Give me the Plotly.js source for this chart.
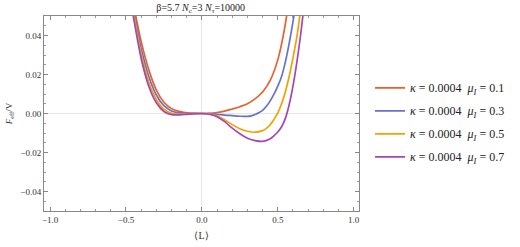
<!DOCTYPE html>
<html>
<head>
<meta charset="utf-8">
<script src="https://cdn.plot.ly/plotly-3.0.1.min.js"></script>
<style>html,body{margin:0;padding:0;background:#fff;}#chart{width:520px;height:247px;}</style>
</head>
<body>
<div id="chart"></div>
<script>
// Polyakov loop values <L> and effective free energy density for each mu_I
var L_orange = [-0.50,-0.45,-0.40,-0.35,-0.30,-0.25,-0.20,-0.15,-0.10,-0.05,0.00,0.05,0.10,0.15,0.20,0.25,0.30,0.35,0.40,0.45,0.50,0.55,0.60];
var F_mu01   = [0.0750,0.0555,0.0370,0.0225,0.0120,0.0058,0.0025,0.0011,0.0004,0.0001,0.0000,0.0001,0.0005,0.0012,0.0023,0.0035,0.0050,0.0075,0.0110,0.0170,0.0275,0.0460,0.0750];

var L_blue = [-0.50,-0.45,-0.40,-0.35,-0.30,-0.25,-0.20,-0.15,-0.10,-0.05,0.00,0.05,0.10,0.15,0.20,0.25,0.30,0.325,0.35,0.375,0.40,0.425,0.45,0.475,0.50,0.525,0.55,0.575,0.60,0.625,0.65];
var F_mu03 = [0.0730,0.0535,0.0335,0.0190,0.0095,0.0040,0.0013,0.0003,0.0000,0.0000,0.0000,-0.0001,-0.0004,-0.0008,-0.0011,-0.0014,-0.0015,-0.0012,-0.0005,0.0004,0.0016,0.0037,0.0065,0.0099,0.0140,0.0190,0.0265,0.0360,0.0470,0.0600,0.0760];

var L_yellow = [-0.50,-0.45,-0.40,-0.35,-0.30,-0.25,-0.20,-0.15,-0.10,-0.05,0.00,0.05,0.10,0.15,0.20,0.25,0.30,0.35,0.40,0.425,0.45,0.475,0.50,0.525,0.55,0.575,0.60,0.625,0.65,0.675];
var F_mu05   = [0.0720,0.0515,0.0305,0.0160,0.0072,0.0022,0.0001,-0.0004,-0.0003,-0.0001,0.0000,-0.0003,-0.0013,-0.0033,-0.0057,-0.0078,-0.0091,-0.0096,-0.0088,-0.0076,-0.0058,-0.0030,0.0003,0.0050,0.0112,0.0190,0.0285,0.0390,0.0530,0.0700];

var L_purple = [-0.50,-0.45,-0.40,-0.35,-0.30,-0.25,-0.20,-0.15,-0.10,-0.05,0.00,0.05,0.10,0.15,0.20,0.25,0.30,0.35,0.40,0.45,0.475,0.50,0.525,0.55,0.575,0.60,0.625,0.65,0.675,0.70];
var F_mu07   = [0.0710,0.0490,0.0282,0.0140,0.0055,0.0010,-0.0006,-0.0007,-0.0004,-0.0001,0.0000,-0.0004,-0.0017,-0.0042,-0.0075,-0.0104,-0.0127,-0.0139,-0.0143,-0.0129,-0.0114,-0.0095,-0.0068,-0.0025,0.0045,0.0140,0.0260,0.0400,0.0570,0.0770];

var seriesNames = [
  "<i>κ</i> = 0.0004\u00a0\u00a0<i>μ<sub>I</sub></i> = 0.1",
  "<i>κ</i> = 0.0004\u00a0\u00a0<i>μ<sub>I</sub></i> = 0.3",
  "<i>κ</i> = 0.0004\u00a0\u00a0<i>μ<sub>I</sub></i> = 0.5",
  "<i>κ</i> = 0.0004\u00a0\u00a0<i>μ<sub>I</sub></i> = 0.7"
];
var xTickVals = [-1.0,-0.5,0.0,0.5,1.0];
var yTickVals = [-0.04,-0.02,0.00,0.02,0.04];

var colors = ["#E8612C","#6672CC","#F5A000","#A546B5"];
var xs = [L_orange, L_blue, L_yellow, L_purple];
var ys = [F_mu01, F_mu03, F_mu05, F_mu07];

var traces = xs.map(function(x,i){
  return {x:x, y:ys[i], type:'scatter', mode:'lines', name:seriesNames[i],
    legendgroup:'g'+i,
    line:{color:colors[i], width:1.7, shape:'spline', smoothing:0.9}};
});

var axisCommon = {
  showgrid:false, zeroline:true, zerolinecolor:'#e6e6e6', zerolinewidth:1,
  showline:true, linecolor:'#888', linewidth:1, mirror:'ticks',
  ticks:'inside', ticklen:4, tickcolor:'#888', tickwidth:1,
  tickfont:{family:'Liberation Serif', size:9, color:'#333'}
};

var layout = {
  width:520, height:247,
  margin:{l:44, r:161, t:16, b:36, autoexpand:false},
  paper_bgcolor:'#fff', plot_bgcolor:'#fff',
  showlegend:true,
  title:{text:"β=5.7 <i>N</i><sub>c</sub>=3 <i>N</i><sub>τ</sub>=10000",
    font:{family:'Liberation Serif', size:10, color:'#222'},
    x:0.386, xanchor:'center', y:0.985, yanchor:'top'},
  xaxis:Object.assign({}, axisCommon, {
    range:[-1.04,1.035], tickvals:xTickVals, tickformat:'.1f',
    minor:{dtick:0.1, ticks:'inside', ticklen:2, tickcolor:'#999', showgrid:false},
    title:{text:"⟨L⟩", font:{family:'Liberation Serif', size:10, color:'#333'}, standoff:8}
  }),
  yaxis:Object.assign({}, axisCommon, {
    range:[-0.05,0.05], tickvals:yTickVals, tickformat:'.2f',
    minor:{dtick:0.005, ticks:'inside', ticklen:2, tickcolor:'#999', showgrid:false},
    title:{text:"<i>F</i><sub>eff</sub>/V", font:{family:'Liberation Serif', size:9, color:'#333'}, standoff:6}
  }),
  legend:{x:1.035, xanchor:'left', y:0.455, yanchor:'middle',
    font:{family:'Liberation Serif', size:12, color:'#222'},
    tracegroupgap:4, bgcolor:'rgba(0,0,0,0)'}
};

Plotly.newPlot('chart', traces, layout, {displayModeBar:false, staticPlot:true});
</script>
</body>
</html>
